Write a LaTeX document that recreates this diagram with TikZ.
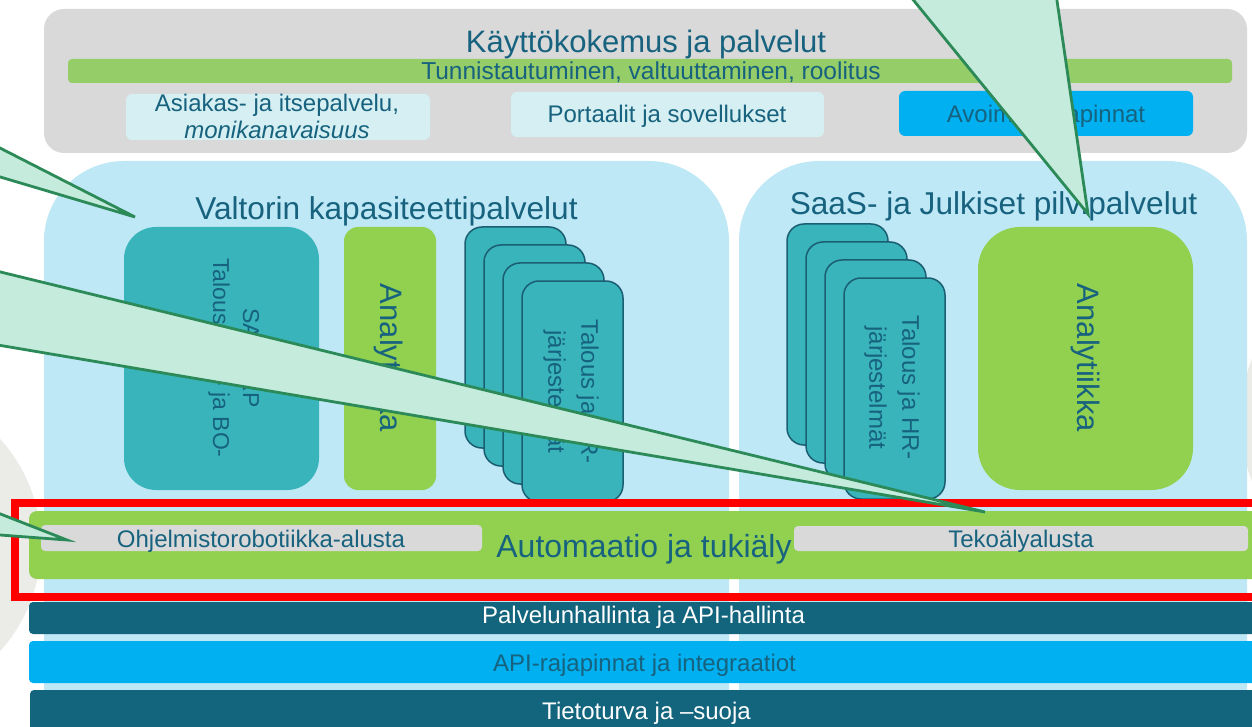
\documentclass[tikz,border=0pt]{standalone}
\usepackage{fontspec}
\setmainfont{Liberation Sans}
\definecolor{txt}{HTML}{17627E}
\definecolor{graybox}{HTML}{D9D9D9}
\definecolor{greenbar}{HTML}{95CD69}
\definecolor{agreen}{HTML}{92D050}
\definecolor{paleblue}{HTML}{D5EFF2}
\definecolor{skyblue}{HTML}{00B0F0}
\definecolor{panel}{HTML}{BFE8F6}
\definecolor{tealbox}{HTML}{38B4BA}
\definecolor{cardline}{HTML}{1B5E72}
\definecolor{darkbar}{HTML}{13647D}
\definecolor{callfill}{HTML}{C5EBDC}
\definecolor{callline}{HTML}{2B8A57}
\definecolor{bggray}{HTML}{EBEBE7}
\tikzset{
  box/.style={inner sep=0pt, outer sep=0pt, anchor=north west},
  lbl/.style={text=txt, inner sep=0pt, anchor=base},
  vlbl/.style={text=txt, inner sep=0pt, rotate=-90, align=center},
  card/.style={box, fill=tealbox, draw=cardline, line width=1.5pt, rounded corners=17pt, minimum width=101pt, minimum height=221pt},
  callout/.style={fill=callfill, draw=callline, line width=2.8pt, line join=miter},
}
\begin{document}
\begin{tikzpicture}[x=1pt,y=-1pt]
\useasboundingbox (0,0) rectangle (1252,727);
\clip (0,0) rectangle (1252,727);
% faint background shapes
\fill[bggray] (-117,545) circle (158pt);
\fill[bggray] (1400,420) circle (160pt);
% top layer
\node[box, fill=graybox, rounded corners=20pt, minimum width=1203pt, minimum height=144pt] (top) at (44,9) {};
\node[box, fill=greenbar, rounded corners=4pt, minimum width=1164pt, minimum height=24pt] (tunn) at (68,59) {};
\node[box, fill=paleblue, rounded corners=6pt, minimum width=304pt, minimum height=46pt] (asiakas) at (126,94) {};
\node[box, fill=paleblue, rounded corners=6pt, minimum width=313pt, minimum height=45pt] (portaalit) at (511,92) {};
\node[box, fill=skyblue, rounded corners=6pt, minimum width=294pt, minimum height=45pt] (avoimet) at (899,91) {};
\node[lbl, font=\fontsize{31}{36}\selectfont] (ttop) at (646,53) {Käyttökokemus ja palvelut};
\node[lbl, font=\fontsize{24.5}{28}\selectfont] (ttunn) at (651,80) {Tunnistautuminen, valtuuttaminen, roolitus};
\node[lbl, font=\fontsize{24}{28}\selectfont] (tasi1) at (277,112) {Asiakas- ja itsepalvelu,};
\node[lbl, font=\fontsize{24}{28}\selectfont\itshape] (tasi2) at (277,139) {monikanavaisuus};
\node[lbl, font=\fontsize{24}{28}\selectfont] (tport) at (667,123) {Portaalit ja sovellukset};
\node[lbl, font=\fontsize{24}{28}\selectfont] (tavo) at (1046,123) {Avoimet rajapinnat};
% panels
\node[box, fill=panel, rounded corners=80pt, minimum width=685pt, minimum height=700pt] (valtori) at (44,161) {};
\node[box, fill=panel, rounded corners=80pt, minimum width=508pt, minimum height=700pt] (saas) at (739,161) {};
\node[lbl, font=\fontsize{31.6}{36}\selectfont] (tval) at (386.5,220) {Valtorin kapasiteettipalvelut};
\node[lbl, font=\fontsize{31.6}{36}\selectfont] (tsaas) at (993.5,215) {SaaS- ja Julkiset pilvipalvelut};
% left panel content
\node[box, fill=tealbox, rounded corners=32pt, minimum width=195pt, minimum height=263pt] (sap) at (124,227) {};
\node[vlbl, font=\fontsize{23}{30}\selectfont] (tsap) at (221,358) {SAP ERP\\Talous-, HR- ja BO-\\tuki};
\node[box, fill=agreen, rounded corners=14pt, minimum width=92pt, minimum height=263pt] (anl) at (344,227) {};
\node[vlbl, font=\fontsize{31}{36}\selectfont] (tanl) at (389,358) {Analytiikka};
\foreach \i in {0,...,3} {\node[card] (cl\i) at ({465+19*\i},{227+18*\i}) {};}
\node[vlbl, font=\fontsize{24}{33}\selectfont] (tcl) at (571,392) {Talous ja HR-\\järjestelmät};
% right panel content
\foreach \i in {0,...,3} {\node[card] (cr\i) at ({787+19*\i},{224+18*\i}) {};}
\node[vlbl, font=\fontsize{24}{33}\selectfont] (tcr) at (892,388) {Talous ja HR-\\järjestelmät};
\node[box, fill=agreen, rounded corners=42pt, minimum width=215pt, minimum height=263pt] (anr) at (978,227) {};
\node[vlbl, font=\fontsize{31}{36}\selectfont] (tanr) at (1085,358) {Analytiikka};
% automation layer
\node[box, fill=agreen, rounded corners=8pt, minimum width=1240pt, minimum height=68pt] (auto) at (29,511) {};
\node[box, fill=graybox, rounded corners=4pt, minimum width=441pt, minimum height=26pt] (rpa) at (41,525) {};
\node[box, fill=graybox, rounded corners=4pt, minimum width=454pt, minimum height=25pt] (ai) at (794,526) {};
\node[lbl, font=\fontsize{24}{28}\selectfont] (trpa) at (261,547) {Ohjelmistorobotiikka-alusta};
\node[lbl, font=\fontsize{24}{28}\selectfont] (tai) at (1021,547) {Tekoälyalusta};
\node[lbl, font=\fontsize{32}{36}\selectfont] (tauto) at (644,557) {Automaatio ja tukiäly};
\node[box, draw=red, line width=8pt, minimum width=1260pt, minimum height=94pt] (redbox) at (15,503) {};
% bottom bars
\node[box, fill=darkbar, rounded corners=4pt, minimum width=1240pt, minimum height=32pt] (svc) at (29,602) {};
\node[box, fill=skyblue, rounded corners=4pt, minimum width=1240pt, minimum height=42pt] (api) at (29,641) {};
\node[box, fill=darkbar, rounded corners=4pt, minimum width=1240pt, minimum height=45pt] (sec) at (30,690) {};
\node[lbl, text=white, font=\fontsize{24}{28}\selectfont] (tsvc) at (643.5,623) {Palvelunhallinta ja API-hallinta};
\node[lbl, font=\fontsize{24}{28}\selectfont] (tapi) at (644.5,671) {API-rajapinnat ja integraatiot};
\node[lbl, text=white, font=\fontsize{24}{28}\selectfont] (tsec) at (646.5,719) {Tietoturva ja –suoja};
% callout pointers
\coordinate (tip1) at (135,217);
\coordinate (tip2) at (985,512);
\coordinate (tip3) at (1088,214);
\coordinate (tip4) at (67,540);
\path[callout] (-20,137.8) -- (tip1) -- (-20,171) -- cycle;
\path[callout] (-20,267) -- (tip2) -- (-20,342) -- cycle;
\path[callout] (897,-20) -- (tip3) -- (1054,-20) -- cycle;
\path[callout] (-20,506) -- (tip4) -- (-20,533.5) -- cycle;
\end{tikzpicture}
\end{document}
